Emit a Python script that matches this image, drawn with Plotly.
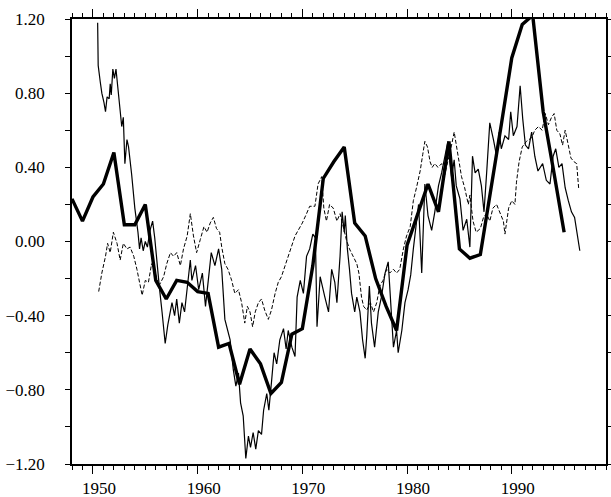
import plotly.graph_objects as go

# Thick line (annual values)
thick_years = list(range(1948, 1996))
thick_vals = [0.23, 0.11, 0.24, 0.31, 0.48, 0.09, 0.09, 0.20, -0.21, -0.31,
              -0.21, -0.22, -0.27, -0.28, -0.57, -0.55, -0.77, -0.58, -0.66, -0.82,
              -0.76, -0.50, -0.47, -0.13, 0.34, 0.43, 0.51, 0.10, 0.03, -0.20,
              -0.35, -0.48, -0.02, 0.15, 0.31, 0.16, 0.54, -0.04, -0.09, -0.07,
              0.27, 0.63, 0.99, 1.17, 1.22, 0.70, 0.38, 0.05]

# Thin solid line (sub-annual values)
solid_t = [1950.45, 1950.5, 1950.7, 1950.85, 1951.05, 1951.2, 1951.35, 1951.55, 1951.65, 1951.75,
           1951.9, 1952.05, 1952.2, 1952.35, 1952.55, 1952.75, 1952.9, 1953.05, 1953.25, 1953.4,
           1953.7, 1954.0, 1954.3, 1954.45, 1954.6, 1954.8, 1955.0, 1955.2, 1955.45, 1955.7,
           1955.9, 1956.1, 1956.35, 1956.6, 1956.9, 1957.15, 1957.35, 1957.55, 1957.8, 1958.0,
           1958.25, 1958.5, 1958.75, 1959.0, 1959.3, 1959.45, 1959.8, 1960.1, 1960.45, 1960.75,
           1961.0, 1961.3, 1961.65, 1962.0, 1962.3, 1962.6, 1963.1, 1963.4, 1963.65, 1963.9,
           1964.1, 1964.35, 1964.6, 1964.85, 1965.05, 1965.3, 1965.55, 1965.8, 1966.1, 1966.3,
           1966.6, 1966.8, 1967.05, 1967.3, 1967.55, 1967.85, 1968.2, 1968.45, 1968.65, 1969.0,
           1969.3, 1969.5, 1969.8, 1970.1, 1970.4, 1970.7, 1971.0, 1971.25, 1971.4, 1971.7,
           1972.15, 1972.5, 1972.8, 1973.1, 1973.3, 1973.6, 1973.8, 1974.0, 1974.1, 1974.3,
           1974.5, 1974.7, 1975.0, 1975.2, 1975.5, 1975.75, 1976.0, 1976.15, 1976.4, 1976.6,
           1976.9, 1977.25, 1977.55, 1977.9, 1978.2, 1978.4, 1978.7, 1979.0, 1979.15, 1979.5,
           1979.8, 1980.1, 1980.35, 1980.6, 1980.9, 1981.1, 1981.4, 1981.7, 1982.0, 1982.35,
           1982.65, 1983.0, 1983.3, 1983.6, 1983.9, 1984.25, 1984.5, 1984.7, 1985.05, 1985.35,
           1985.7, 1986.0, 1986.25, 1986.5, 1986.8, 1987.1, 1987.35, 1987.6, 1987.9, 1988.25,
           1988.55, 1988.8, 1989.0, 1989.35, 1989.7, 1989.9, 1990.15, 1990.5, 1990.8, 1991.05,
           1991.3, 1991.6, 1991.9, 1992.2, 1992.5, 1992.95, 1993.3, 1993.65, 1993.95, 1994.2,
           1994.5, 1994.8, 1995.1, 1995.4, 1995.7, 1996.0, 1996.3, 1996.5]
solid_v = [1.18, 0.95, 0.86, 0.80, 0.75, 0.70, 0.78, 0.77, 0.85, 0.79,
           0.93, 0.88, 0.93, 0.84, 0.70, 0.62, 0.67, 0.42, 0.55, 0.51,
           0.36, 0.18, 0.05, -0.04, 0.02, -0.05, 0.00, -0.03, 0.06, 0.11,
           0.02, -0.12, -0.25, -0.38, -0.55, -0.45, -0.38, -0.33, -0.40, -0.31,
           -0.44, -0.33, -0.38, -0.26, -0.10, -0.21, -0.13, -0.26, -0.17, -0.35,
           -0.20, -0.06, -0.13, -0.04, -0.15, -0.42, -0.53, -0.69, -0.78, -0.71,
           -0.87, -0.94, -1.17, -1.05, -1.11, -1.03, -1.12, -1.02, -1.04, -0.91,
           -0.82, -0.91, -0.76, -0.60, -0.66, -0.53, -0.47, -0.58, -0.48, -0.57,
           -0.62, -0.30, -0.21, -0.28, -0.08, -0.04, 0.04, 0.02, -0.46, -0.19,
           -0.30, -0.38, -0.15, -0.22, -0.33, -0.08, 0.16, 0.05, 0.14, -0.04,
           -0.15, -0.28, -0.38, -0.30, -0.38, -0.53, -0.63, -0.51, -0.24, -0.44,
           -0.57, -0.38, -0.30, -0.17, -0.11, -0.30, -0.57, -0.48, -0.60, -0.48,
           -0.33, -0.26, -0.18, -0.04, 0.10, 0.20, -0.17, 0.31, 0.14, 0.06,
           0.16, 0.30, 0.37, 0.46, 0.54, 0.35, 0.44, 0.30, 0.23, 0.06,
           0.12, -0.03, 0.46, 0.37, 0.39, 0.30, 0.16, 0.37, 0.64, 0.55,
           0.46, 0.59, 0.50, 0.57, 0.55, 0.70, 0.57, 0.62, 0.84, 0.66,
           0.52, 0.50, 0.59, 0.46, 0.38, 0.42, 0.33, 0.31, 0.46, 0.50,
           0.40, 0.42, 0.29, 0.22, 0.16, 0.13, 0.02, -0.05]

# Dashed line (sub-annual values)
dash_t = [1950.55, 1950.85, 1951.2, 1951.4, 1951.65, 1951.95, 1952.3, 1952.6, 1952.9, 1953.25,
          1953.55, 1953.9, 1954.2, 1954.5, 1954.7, 1955.0, 1955.3, 1955.6, 1955.95, 1956.3,
          1956.75, 1957.05, 1957.4, 1957.7, 1958.0, 1958.35, 1958.65, 1959.0, 1959.3, 1959.6,
          1959.9, 1960.25, 1960.6, 1960.9, 1961.2, 1961.5, 1961.8, 1962.1, 1962.3, 1962.6,
          1962.9, 1963.25, 1963.55, 1963.9, 1964.2, 1964.5, 1964.75, 1965.0, 1965.25, 1965.5,
          1965.8, 1966.1, 1966.4, 1966.75, 1967.05, 1967.4, 1967.7, 1968.0, 1968.35, 1968.65,
          1969.0, 1969.3, 1969.6, 1970.0, 1970.4, 1970.7, 1971.2, 1971.5, 1971.85, 1972.05,
          1972.3, 1972.6, 1972.95, 1973.3, 1973.6, 1973.9, 1974.2, 1974.5, 1974.85, 1975.2,
          1975.4, 1975.65, 1975.85, 1976.15, 1976.5, 1976.8, 1977.1, 1977.4, 1977.7, 1978.05,
          1978.35, 1978.7, 1979.0, 1979.3, 1979.65, 1979.95, 1980.3, 1980.6, 1980.9, 1981.25,
          1981.5, 1981.7, 1981.95, 1982.2, 1982.4, 1982.65, 1982.95, 1983.3, 1983.6, 1983.9,
          1984.25, 1984.5, 1984.7, 1984.9, 1985.2, 1985.5, 1985.85, 1986.0, 1986.3, 1986.6,
          1987.0, 1987.3, 1987.6, 1987.9, 1988.2, 1988.55, 1988.9, 1989.2, 1989.35, 1989.5,
          1989.7, 1990.0, 1990.3, 1990.45, 1990.7, 1991.0, 1991.4, 1991.9, 1992.2, 1992.55,
          1992.9, 1993.2, 1993.5, 1993.8, 1994.05, 1994.3, 1994.6, 1994.85, 1995.1, 1995.4,
          1995.65, 1995.95, 1996.2, 1996.4]
dash_v = [-0.27, -0.17, -0.08, -0.01, -0.06, 0.05, -0.01, -0.10, -0.01, -0.04,
          -0.03, -0.08, -0.15, -0.24, -0.29, -0.21, -0.22, -0.12, -0.17, -0.24,
          -0.19, -0.12, -0.06, -0.08, -0.06, -0.13, -0.04, 0.03, 0.15, 0.03,
          -0.06, 0.01, 0.08, 0.05, 0.10, 0.13, 0.07, 0.05, -0.03, -0.12,
          -0.15, -0.21, -0.28, -0.26, -0.33, -0.44, -0.35, -0.38, -0.46, -0.38,
          -0.33, -0.31, -0.37, -0.42, -0.37, -0.28, -0.22, -0.19, -0.13, -0.08,
          -0.03, 0.03, 0.06, 0.10, 0.15, 0.19, 0.19, 0.31, 0.35, 0.18,
          0.11, 0.20, 0.18, 0.11, 0.15, 0.08, 0.01, -0.04, -0.08, -0.12,
          -0.17, -0.30, -0.35, -0.37, -0.33, -0.38, -0.33, -0.24, -0.21, -0.15,
          -0.17, -0.15, -0.17, -0.15, -0.04, 0.03, 0.08, 0.22, 0.29, 0.38,
          0.47, 0.54, 0.51, 0.43, 0.40, 0.42, 0.40, 0.42, 0.36, 0.43,
          0.52, 0.59, 0.52, 0.47, 0.35, 0.29, 0.20, 0.25, 0.11, 0.05,
          0.07, 0.13, 0.15, 0.11, 0.18, 0.20, 0.15, 0.11, 0.04, 0.11,
          0.18, 0.22, 0.20, 0.32, 0.43, 0.51, 0.54, 0.56, 0.60, 0.62,
          0.60, 0.69, 0.63, 0.67, 0.69, 0.60, 0.58, 0.52, 0.60, 0.52,
          0.45, 0.43, 0.42, 0.28]

y_ticks = [-1.2, -0.8, -0.4, 0.0, 0.4, 0.8, 1.2]

fig = go.Figure()
fig.add_trace(go.Scatter(x=dash_t, y=dash_v, mode="lines",
                         line=dict(color="black", width=1, dash="4px,2px")))
fig.add_trace(go.Scatter(x=solid_t, y=solid_v, mode="lines",
                         line=dict(color="black", width=1.2)))
fig.add_trace(go.Scatter(x=thick_years, y=thick_vals, mode="lines",
                         line=dict(color="black", width=3.4)))

font = dict(family="Liberation Serif, serif", size=17, color="black")

fig.update_layout(
    width=611, height=497,
    margin=dict(l=72, r=5, t=19, b=33),
    paper_bgcolor="white", plot_bgcolor="white",
    showlegend=False,
    font=font,
)
fig.update_xaxes(
    range=[1948, 1999], tickmode="linear", tick0=1950, dtick=10,
    ticks="outside", ticklen=8, tickwidth=1, tickcolor="black",
    minor=dict(dtick=1, tick0=1948, ticks="outside", ticklen=4, tickwidth=1, tickcolor="black", showgrid=False),
    showline=True, linecolor="black", linewidth=1.5, mirror="ticks",
    showgrid=False, zeroline=False, tickfont=font, ticklabelshift=6, ticklabelstandoff=0,
    automargin=False,
)
fig.update_yaxes(
    range=[-1.2, 1.2], tickmode="array", tickvals=y_ticks, tickformat=".2f",
    ticks="outside", ticklen=5, tickwidth=1, tickcolor="black",
    minor=dict(dtick=0.2, tick0=-1.2, ticks="outside", ticklen=5, tickwidth=1, tickcolor="black", showgrid=False),
    showline=True, linecolor="black", linewidth=1.5, mirror="ticks",
    showgrid=False, zeroline=False, tickfont=font, ticklabelstandoff=17,
    automargin=False,
)

fig.write_html("out.html", config={"displayModeBar": False})

# remove the default page margin so the figure sits at the window's top-left corner
with open("out.html", "r", encoding="utf-8") as f:
    html = f.read()
html = html.replace("<head>", "<head><style>html,body{margin:0;padding:0;overflow:hidden;}</style>", 1)
with open("out.html", "w", encoding="utf-8") as f:
    f.write(html)
